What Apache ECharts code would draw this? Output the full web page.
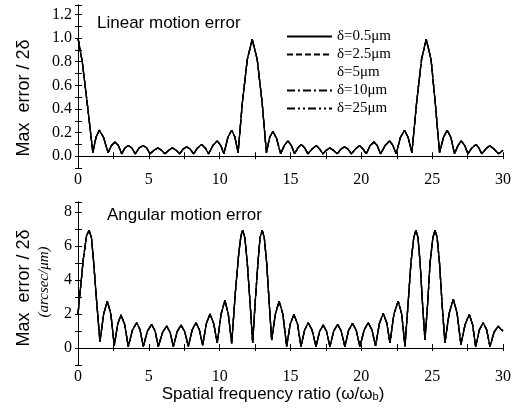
<!DOCTYPE html>
<html>
<head>
<meta charset="utf-8">
<script src="https://cdn.jsdelivr.net/npm/echarts@6/dist/echarts.min.js"></script>
<style>
html,body{margin:0;padding:0;background:#fff;}
#c{width:518px;height:412px;}
</style>
</head>
<body>
<div id="c"></div>
<script>
// ---- data ----
const linX = [0,0.3,0.65,1.05,1.27,1.5,1.8,2.12,2.36,2.61,2.85,3.08,3.32,3.55,3.8,4.04,4.32,4.6,4.85,5.08,5.37,5.65,5.9,6.14,6.4,6.66,6.93,7.18,7.42,7.67,7.92,8.16,8.44,8.73,8.98,9.22,9.52,9.83,10.08,10.3,10.58,10.85,11.08,11.3,11.6,11.95,12.3,12.65,13.0,13.3,13.53,13.76,14.02,14.3,14.56,14.82,15.06,15.29,15.52,15.76,16.0,16.23,16.52,16.82,17.06,17.29,17.52,17.76,18.03,18.3,18.56,18.82,19.06,19.29,19.58,19.88,20.12,20.35,20.62,20.89,21.12,21.36,21.68,22.0,22.23,22.46,22.76,23.05,23.3,23.57,23.9,24.25,24.58,24.92,25.22,25.52,25.8,26.06,26.32,26.58,26.82,27.05,27.3,27.52,27.8,28.1,28.3,28.5,28.78,29.05,29.37,29.69,30];
const linY = [1.0,0.8,0.45,0.03,0.16,0.22,0.16,0.03,0.09,0.12,0.09,0.02,0.07,0.09,0.07,0.02,0.07,0.09,0.07,0.02,0.05,0.07,0.05,0.02,0.05,0.07,0.05,0.02,0.06,0.08,0.06,0.02,0.07,0.10,0.07,0.02,0.09,0.13,0.09,0.02,0.16,0.22,0.16,0.03,0.45,0.82,0.99,0.82,0.45,0.03,0.16,0.21,0.15,0.02,0.09,0.13,0.09,0.02,0.07,0.10,0.07,0.02,0.06,0.09,0.06,0.02,0.05,0.07,0.05,0.02,0.06,0.08,0.06,0.02,0.06,0.09,0.06,0.02,0.09,0.12,0.09,0.02,0.09,0.13,0.09,0.02,0.16,0.22,0.16,0.03,0.45,0.82,0.99,0.82,0.45,0.03,0.16,0.22,0.16,0.02,0.09,0.13,0.09,0.02,0.07,0.10,0.07,0.02,0.06,0.09,0.06,0.02,0.05];

const angX = [0,0.37,0.6,0.78,0.95,1.08,1.32,1.55,1.81,2.07,2.32,2.56,2.8,3.03,3.29,3.55,3.85,4.14,4.38,4.61,4.9,5.2,5.44,5.67,5.97,6.26,6.5,6.73,7.0,7.27,7.53,7.79,8.06,8.33,8.57,8.8,9.06,9.32,9.58,9.83,10.1,10.37,10.61,10.85,11.1,11.35,11.5,11.62,11.78,11.95,12.15,12.33,12.5,12.7,12.85,13.0,13.15,13.32,13.5,13.67,13.93,14.2,14.46,14.73,14.98,15.24,15.5,15.74,16.0,16.25,16.52,16.8,17.05,17.31,17.55,17.78,18.05,18.33,18.58,18.84,19.1,19.38,19.64,19.9,20.2,20.49,20.75,21.0,21.28,21.55,21.8,22.02,22.3,22.6,22.85,23.08,23.3,23.5,23.7,23.85,24.0,24.15,24.32,24.49,24.68,24.85,25.05,25.2,25.35,25.52,25.7,25.9,26.2,26.49,26.76,27.03,27.33,27.62,27.85,28.07,28.33,28.6,28.85,29.08,29.37,29.66,29.85,30];
const angY = [2.0,5.2,6.6,6.94,6.5,5.3,2.7,0.37,2.0,2.76,2.0,0.14,1.4,1.94,1.4,0.08,1.07,1.49,1.07,0.08,1.0,1.39,1.0,0.08,0.93,1.29,0.93,0.08,0.97,1.35,0.97,0.1,1.07,1.49,1.07,0.15,1.44,2.0,1.44,0.3,2.0,2.8,2.0,0.27,3.2,5.6,6.6,6.94,6.5,5.0,2.6,0.3,2.6,5.0,6.5,6.94,6.5,5.0,2.6,0.47,2.0,2.76,2.0,0.1,1.4,1.98,1.4,0.08,1.07,1.49,1.07,0.08,0.97,1.35,0.97,0.08,1.0,1.39,1.0,0.08,1.04,1.45,1.04,0.08,1.07,1.49,1.07,0.12,1.46,2.04,1.46,0.3,2.0,2.76,2.0,0.1,2.6,5.0,6.5,6.94,6.5,5.0,2.6,0.47,2.6,5.0,6.5,6.94,6.5,5.0,2.6,0.3,2.05,2.88,2.05,0.2,1.4,1.98,1.4,0.08,1.07,1.49,1.07,0.08,0.93,1.29,1.1,1.0];

const deltaNames = ['δ=0.5μm','δ=2.5μm','δ=5μm','δ=10μm','δ=25μm'];
const xTicks = [0,5,10,15,20,25,30];
const linTicks = [0.0,0.2,0.4,0.6,0.8,1.0,1.2];
const angTicks = [0,2,4,6,8];

// ---- styling ----
const lineTypes = ['solid',[6,3],'dotted',[8,3,2,3],[8,3,2,3,2,3]];
const serif = 'Liberation Serif';
const sans = 'Liberation Sans';

const linPairs = linX.map((x,i)=>[x,linY[i]]);
const angPairs = angX.map((x,i)=>[x,angY[i]]);

function onList(list, v, tol){ return list.some(t=>Math.abs(t-v)<tol); }

function xAxisMain(grid){
  return {gridIndex:grid,type:'value',min:0,max:30,interval:2.5,position:'bottom',
    axisLine:{show:true,lineStyle:{color:'#000',width:1}},
    axisTick:{show:true,inside:true,length:4,lineStyle:{color:'#000'}},
    splitLine:{show:false},
    axisLabel:{margin:4,color:'#000',fontFamily:serif,fontSize:16,
      formatter:v=>onList(xTicks,v,1e-6)?String(Math.round(v)):''}};
}
function xAxisTop(grid){
  return {gridIndex:grid,type:'value',min:0,max:30,interval:2.5,position:'top',
    axisLine:{show:true,lineStyle:{color:'#000',width:1}},
    axisTick:{show:true,inside:true,length:3,lineStyle:{color:'#000'}},
    splitLine:{show:false},axisLabel:{show:false}};
}
function yAxisRight(grid,min,max,interval){
  return {gridIndex:grid,type:'value',min:min,max:max,interval:interval,position:'right',
    axisLine:{show:true,lineStyle:{color:'#000',width:1}},
    axisTick:{show:true,inside:true,length:3,lineStyle:{color:'#000'}},
    splitLine:{show:false},axisLabel:{show:false}};
}

const series = [];
deltaNames.forEach((n,k)=>{
  series.push({name:n,type:'line',xAxisIndex:0,yAxisIndex:0,data:linPairs,symbol:'none',
    lineStyle:{color:'#000',width:1.3,type:lineTypes[k]},itemStyle:{color:'#000'},z:10-k});
  series.push({name:n,type:'line',xAxisIndex:2,yAxisIndex:2,data:angPairs,symbol:'none',
    lineStyle:{color:'#000',width:1.3,type:lineTypes[k]},itemStyle:{color:'#000'},z:10-k});
});

const chart = echarts.init(document.getElementById('c'),null,{renderer:'canvas'});
chart.setOption({
  animation:false,
  backgroundColor:'#fff',
  grid:[
    {left:78,top:5,width:425,height:163},
    {left:78,top:202,width:425,height:163}
  ],
  xAxis:[xAxisMain(0),xAxisTop(0),xAxisMain(1),xAxisTop(1)],
  yAxis:[
    {gridIndex:0,type:'value',min:-0.1,max:1.28,interval:0.1,position:'left',
      axisLine:{show:true,lineStyle:{color:'#000',width:1}},
      axisTick:{show:true,inside:true,length:4,lineStyle:{color:'#000'}},
      splitLine:{show:false},
      axisLabel:{margin:6,color:'#000',fontFamily:serif,fontSize:16,
        formatter:v=>onList(linTicks,v,1e-6)?v.toFixed(1):''}},
    yAxisRight(0,-0.1,1.28,0.1),
    {gridIndex:1,type:'value',min:-1,max:8.6,interval:1,position:'left',
      axisLine:{show:true,lineStyle:{color:'#000',width:1}},
      axisTick:{show:true,inside:true,length:4,lineStyle:{color:'#000'}},
      splitLine:{show:false},
      axisLabel:{margin:6,color:'#000',fontFamily:serif,fontSize:16,
        formatter:v=>onList(angTicks,v,1e-6)?String(Math.round(v)):''}},
    yAxisRight(1,-1,8.6,1)
  ],
  legend:{
    orient:'vertical',left:281,top:24,itemWidth:45,itemHeight:10,itemGap:3,
    itemStyle:{opacity:0},
    textStyle:{fontFamily:serif,fontSize:15,color:'#000'},
    data:deltaNames.map((n,k)=>k===2?{name:n,lineStyle:{opacity:0}}:{name:n})
  },
  graphic:[
    {type:'text',left:97,top:15,style:{text:'Linear motion error',font:'17px "Liberation Sans"',fill:'#000'}},
    {type:'text',left:107,top:207,style:{text:'Angular motion error',font:'17px "Liberation Sans"',fill:'#000'}},
    {type:'text',x:24,y:98,rotation:Math.PI/2,style:{text:'Max  error / 2δ',font:'18px "Liberation Sans"',fill:'#000',align:'center',verticalAlign:'middle'}},
    {type:'text',x:24,y:288,rotation:Math.PI/2,style:{text:'Max  error / 2δ',font:'18px "Liberation Sans"',fill:'#000',align:'center',verticalAlign:'middle'}},
    {type:'text',x:44,y:282,rotation:Math.PI/2,style:{text:'(arcsec/μm)',font:'italic 15px "Liberation Serif"',fill:'#000',align:'center',verticalAlign:'middle'}},
    {type:'text',x:273,y:394,style:{text:'Spatial frequency ratio (ω/ω{s|b})',
      rich:{s:{fontFamily:sans,fontSize:11,verticalAlign:'bottom',padding:[6,0,0,0]}},
      font:'17px "Liberation Sans"',fill:'#000',align:'center',verticalAlign:'middle'}}
  ],
  series:series
});
</script>
</body>
</html>
